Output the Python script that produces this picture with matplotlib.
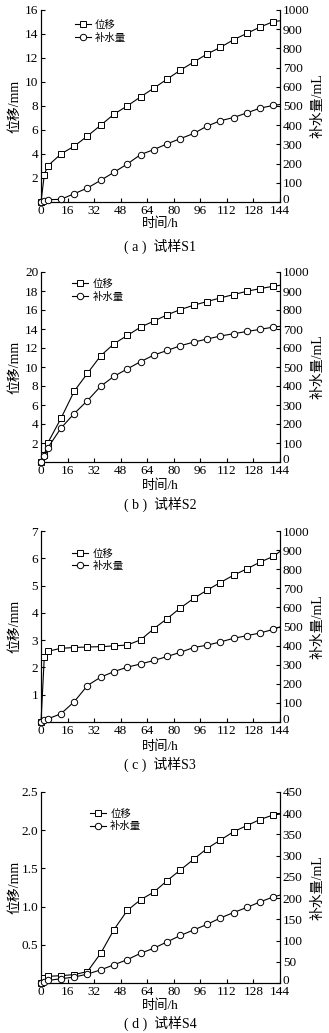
import numpy as np
import matplotlib
matplotlib.use("Agg")
import matplotlib.pyplot as plt
from matplotlib.transforms import ScaledTranslation

plt.rcParams['font.family'] = ['Liberation Serif', 'Noto Sans CJK SC']
plt.rcParams['font.size'] = 9.5
plt.rcParams['axes.unicode_minus'] = False

# time points (h); last point at 144 is drawn without a marker
t = [0, 2, 4, 12, 20, 28, 36, 44, 52, 60, 68, 76, 84, 92, 100, 108, 116, 124, 132, 140, 144]

# S1
disp_s1 = [0, 2.28, 3.0, 4.0, 4.65, 5.5, 6.4, 7.32, 8.01, 8.76, 9.49, 10.24, 10.99, 11.66,
           12.33, 12.88, 13.52, 14.05, 14.58, 15.03, 15.1]
water_s1 = [0, 3, 12, 14, 43, 73, 113, 155, 198, 247, 273, 303, 330, 357, 395, 423, 440,
            464, 489, 503, 508]

# S2
disp_s2 = [0, 0.75, 1.98, 4.58, 7.45, 9.34, 11.19, 12.45, 13.32, 14.2, 14.83, 15.49, 16.05,
           16.5, 16.89, 17.27, 17.62, 17.97, 18.25, 18.5, 18.6]
water_s2 = [0, 30, 73, 178, 255, 323, 399, 451, 490, 528, 563, 587, 612, 631, 647, 663, 675,
            687, 698, 710, 714]

# S3
disp_s3 = [0, 2.4, 2.59, 2.70, 2.73, 2.75, 2.76, 2.79, 2.82, 3.01, 3.42, 3.79, 4.18, 4.53,
           4.83, 5.11, 5.38, 5.61, 5.86, 6.07, 6.25]
water_s3 = [0, 8, 16, 43, 106, 191, 235, 264, 287, 304, 322, 343, 365, 390, 402, 419, 438,
            452, 466, 485, 498]

# S4
disp_s4 = [0, 0.06, 0.087, 0.096, 0.11, 0.15, 0.39, 0.70, 0.95, 1.09, 1.19, 1.34, 1.48, 1.62,
           1.76, 1.87, 1.98, 2.06, 2.14, 2.20, 2.21]
water_s4 = [0, 3, 6, 10, 14, 21, 31, 43, 55, 70, 82, 97, 112, 125, 138, 153, 166, 178, 191,
            203, 207]

panels = [
    (disp_s1, water_s1, (0, 16), np.arange(2, 17, 2), (0, 1000), np.arange(0, 1001, 100),
     '( a )  试样S1', [str(v) for v in np.arange(2, 17, 2)]),
    (disp_s2, water_s2, (0, 20), np.arange(2, 21, 2), (0, 1000), np.arange(0, 1001, 100),
     '( b )  试样S2', [str(v) for v in np.arange(2, 21, 2)]),
    (disp_s3, water_s3, (0, 7), np.arange(1, 8, 1), (0, 1000), np.arange(0, 1001, 100),
     '( c )  试样S3', [str(v) for v in np.arange(1, 8, 1)]),
    (disp_s4, water_s4, (0, 2.5), np.arange(0.5, 2.51, 0.5), (0, 450), np.arange(0, 451, 50),
     '( d )  试样S4', ['%.1f' % v for v in np.arange(0.5, 2.51, 0.5)]),
]

# axes boxes in pixels (top, bottom), legend anchor, caption rows
W, H = 329, 1033
boxes = [(10, 202), (272, 462), (531, 722), (792, 983)]
leg_x = [0.12, 0.11, 0.11, 0.185]
leg_y = [0.975, 0.99, 0.935, 0.94]
xlab_y = [224, 486, 747, 1006]
cap_y = [246, 504, 764, 1023]

fig = plt.figure(figsize=(W / 100, H / 100), dpi=100)
left, right = 41, 280

for i, (d, w, ylim, yt, ylim2, yt2, cap, ytl) in enumerate(panels):
    top, bot = boxes[i]
    ax = fig.add_axes([left / W, 1 - bot / H, (right - left) / W, (bot - top) / H])
    ax2 = ax.twinx()
    mk = slice(0, len(t) - 1)
    l1, = ax.plot(t, d, '-', color='black', lw=0.8, marker='s', ms=4.3, mfc='white',
                  mec='black', mew=0.7, markevery=mk, clip_on=False, zorder=3)
    l2, = ax2.plot(t, w, '-', color='black', lw=0.8, marker='o', ms=4.6, mfc='white',
                   mec='black', mew=0.7, markevery=mk, clip_on=False, zorder=3)
    ax.set_xlim(0, 144)
    ax.set_xticks(np.arange(0, 145, 16))
    ax.set_ylim(*ylim)
    ax.set_yticks(yt)
    ax.set_yticklabels(ytl)
    ax2.set_ylim(*ylim2)
    ax2.set_yticks(yt2)
    ax2.set_yticklabels([str(v) for v in yt2])
    for a in (ax, ax2):
        a.spines['top'].set_visible(False)
        for s in a.spines.values():
            s.set_linewidth(0.8)
        a.tick_params(direction='in', length=3, width=0.8, labelsize=9.5, pad=2)
    ax.tick_params(axis='x', pad=2.5)
    # lift the right-axis "0" a little so it sits clear of "144"
    lab0 = ax2.get_yticklabels()[0]
    lab0.set_transform(lab0.get_transform() + ScaledTranslation(0, 2.5 / 72, fig.dpi_scale_trans))
    ax.set_ylabel('位移/mm', fontsize=10)
    ax2.set_ylabel('补水量/mL', fontsize=10)
    ax.yaxis.set_label_coords(-20 / (right - left), 0.5)
    ax2.yaxis.set_label_coords(1 + 32 / (right - left), 0.5)
    fig.text(160 / W, 1 - xlab_y[i] / H, '时间/h', ha='center', va='center', fontsize=9.5)
    fig.text(160 / W, 1 - cap_y[i] / H, cap, ha='center', va='center', fontsize=10)
    ax.legend([l1, l2], ['位移', '补水量'], loc='upper left',
              bbox_to_anchor=(leg_x[i], leg_y[i]), frameon=False, fontsize=7.5,
              handlelength=1.5, handletextpad=0.4, borderpad=0, labelspacing=0.25)

fig.savefig('out.png', dpi=100)
